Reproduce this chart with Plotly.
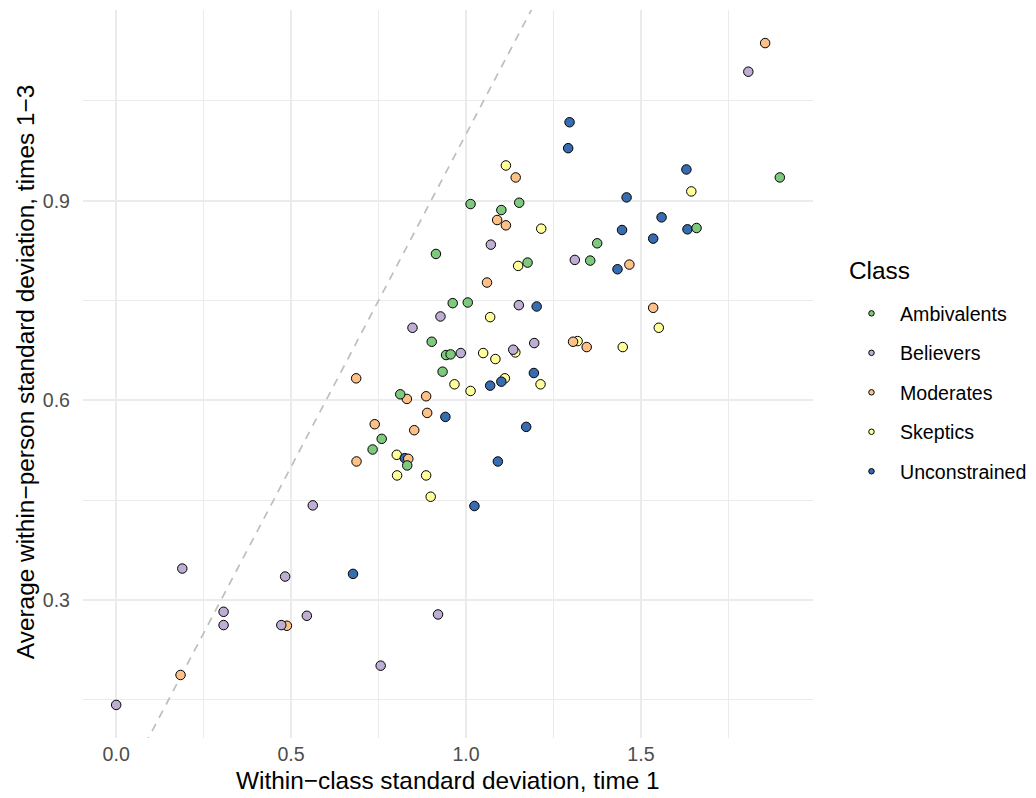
import plotly.graph_objects as go

# ---- data ----
classes = ["Ambivalents", "Believers", "Moderates", "Skeptics", "Unconstrained"]
class_colors = ["#7FC97F", "#BEAED4", "#FDC086", "#FFFF99", "#386CB0"]

amb_x = [1.013, 1.101, 1.152, 0.914, 1.176, 0.962, 1.005, 0.902, 0.943, 0.956,
         0.933, 0.812, 0.759, 0.733, 0.832, 1.375, 1.355, 1.659, 1.897]
amb_y = [0.895, 0.886, 0.897, 0.820, 0.807, 0.746, 0.747, 0.688, 0.668, 0.669,
         0.643, 0.609, 0.542, 0.526, 0.502, 0.836, 0.810, 0.859, 0.935]

bel_x = [0.189, 0.483, 0.307, 0.307, 0.472, 0.545, 0.920, 0.756, 0.000, 1.071,
         1.151, 0.927, 0.985, 1.135, 1.195, 0.847, 0.562, 1.311, 1.807]
bel_y = [0.347, 0.335, 0.282, 0.262, 0.262, 0.276, 0.278, 0.201, 0.142, 0.834,
         0.743, 0.726, 0.671, 0.676, 0.686, 0.709, 0.442, 0.811, 1.094]

mod_x = [0.488, 0.184, 1.142, 1.089, 1.114, 1.060, 0.886, 0.889, 0.686, 0.831,
         0.739, 0.852, 0.835, 0.687, 1.467, 1.535, 1.306, 1.345, 1.855]
mod_y = [0.261, 0.187, 0.935, 0.871, 0.863, 0.777, 0.606, 0.581, 0.633, 0.602,
         0.564, 0.555, 0.512, 0.508, 0.804, 0.739, 0.688, 0.680, 1.137]

ske_x = [1.114, 1.215, 1.149, 1.069, 1.049, 1.084, 1.141, 1.111, 0.967, 1.013,
         1.213, 0.802, 0.803, 0.886, 0.899, 1.644, 1.551, 1.319, 1.448]
ske_y = [0.953, 0.858, 0.802, 0.725, 0.671, 0.662, 0.672, 0.633, 0.624, 0.614,
         0.624, 0.518, 0.487, 0.487, 0.455, 0.914, 0.709, 0.689, 0.680]

unc_x = [0.677, 1.202, 1.194, 1.101, 1.069, 0.941, 1.172, 1.091, 0.825, 1.024,
         1.296, 1.292, 1.630, 1.459, 1.559, 1.446, 1.633, 1.535, 1.433]
unc_y = [0.339, 0.741, 0.641, 0.628, 0.622, 0.575, 0.560, 0.508, 0.513, 0.441,
         1.018, 0.979, 0.947, 0.905, 0.875, 0.856, 0.857, 0.843, 0.797]

x_ticks = [0.0, 0.5, 1.0, 1.5]
x_tick_text = ["0.0", "0.5", "1.0", "1.5"]
y_ticks = [0.3, 0.6, 0.9]
y_tick_text = ["0.3", "0.6", "0.9"]

x_title = "Within\u2212class standard deviation, time 1"
y_title = "Average within\u2212person standard deviation, times 1\u22123"
legend_title = "Class"

series = {
    "Ambivalents": (amb_x, amb_y),
    "Believers": (bel_x, bel_y),
    "Moderates": (mod_x, mod_y),
    "Skeptics": (ske_x, ske_y),
    "Unconstrained": (unc_x, unc_y),
}
draw_order = ["Skeptics", "Unconstrained", "Moderates", "Believers", "Ambivalents"]

# ---- ranges (ggplot-like 5% expansion) ----
all_x = [v for k in classes for v in series[k][0]]
all_y = [v for k in classes for v in series[k][1]]
xpad = 0.05 * (max(all_x) - min(all_x))
ypad = 0.05 * (max(all_y) - min(all_y))
xr = [min(all_x) - xpad, max(all_x) + xpad]
yr = [min(all_y) - ypad, max(all_y) + ypad]

FONT = "Liberation Sans, Arial, Helvetica, sans-serif"
TITLE_SIZE = 24.4
TEXT_SIZE = 19.6

fig = go.Figure()

# identity reference line y = x
lo = min(xr[0], yr[0]) - 1
hi = max(xr[1], yr[1]) + 1
fig.add_trace(go.Scatter(x=[lo, hi], y=[lo, hi], mode="lines",
                         line=dict(color="#BEBEBE", width=1.7, dash="8px,7px"),
                         showlegend=False, hoverinfo="skip"))

col = dict(zip(classes, class_colors))
for name in draw_order:
    xs, ys = series[name]
    fig.add_trace(go.Scatter(
        x=xs, y=ys, mode="markers", name=name, showlegend=False,
        marker=dict(size=9.5, color=col[name], line=dict(color="black", width=1)),
    ))

# legend entries (small keys, legend order)
for i, name in enumerate(classes):
    fig.add_trace(go.Scatter(
        x=[None], y=[None], mode="markers", name=name, legendgroup=name,
        legendrank=i + 1,
        marker=dict(size=5.5, color=col[name], line=dict(color="black", width=1)),
    ))

fig.update_layout(
    width=1036, height=798,
    margin=dict(l=83, r=223, t=10, b=60),
    paper_bgcolor="white", plot_bgcolor="white",
    font=dict(family=FONT, color="black"),
    showlegend=True,
    legend=dict(
        font=dict(size=TEXT_SIZE, color="black"),
        xref="container", yref="container",
        x=0.8137, xanchor="left", y=0.508, yanchor="middle",
        tracegroupgap=11, itemsizing="trace", itemwidth=47,
        bgcolor="rgba(0,0,0,0)",
    ),
    xaxis=dict(
        range=xr, tickvals=x_ticks, ticktext=x_tick_text,
        showgrid=True, gridcolor="#EBEBEB", gridwidth=2,
        minor=dict(dtick=0.25, tick0=0, showgrid=True, gridcolor="#EBEBEB", gridwidth=1),
        zeroline=False, showline=False, ticks="",
        tickfont=dict(size=TEXT_SIZE, color="#4D4D4D"),
        ticklabelstandoff=2, automargin=False,
    ),
    yaxis=dict(
        range=yr, tickvals=y_ticks, ticktext=y_tick_text,
        showgrid=True, gridcolor="#EBEBEB", gridwidth=2,
        minor=dict(dtick=0.15, tick0=0, showgrid=True, gridcolor="#EBEBEB", gridwidth=1),
        zeroline=False, showline=False, ticks="",
        tickfont=dict(size=TEXT_SIZE, color="#4D4D4D"),
        ticklabelstandoff=12, automargin=False,
    ),
    annotations=[
        dict(text=x_title, xref="paper", yref="paper", x=0.5, y=-0.0577,
             xanchor="center", yanchor="middle", showarrow=False,
             font=dict(size=TITLE_SIZE, color="black")),
        dict(text=y_title, xref="paper", yref="paper", x=-0.079, y=0.503,
             xanchor="center", yanchor="middle", textangle=-90, showarrow=False,
             font=dict(size=TITLE_SIZE, color="black")),
        dict(text=legend_title, xref="paper", yref="paper", x=1.046, y=0.642,
             xanchor="left", yanchor="middle", showarrow=False,
             font=dict(size=TITLE_SIZE, color="black")),
    ],
)

fig.write_html("out.html")
